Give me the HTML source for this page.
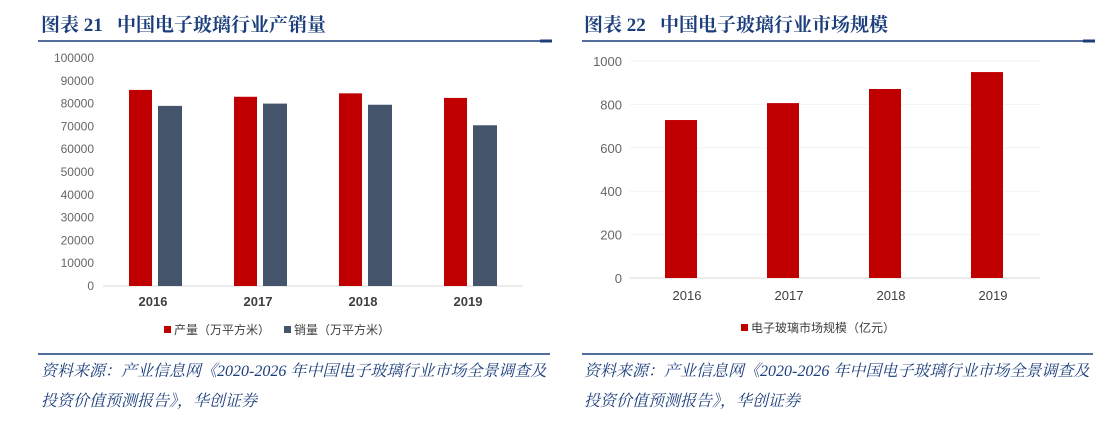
<!DOCTYPE html>
<html><head><meta charset="utf-8"><style>
body{margin:0;width:1114px;height:426px;background:#fff;overflow:hidden;font-family:"Liberation Sans","Noto Sans CJK SC",sans-serif;}
.t{position:absolute;font-family:"Liberation Serif","Noto Serif CJK SC",serif;font-weight:bold;font-size:19px;color:#1c3f7c;top:10px;}
.src{position:absolute;font-family:"Liberation Serif","Noto Serif CJK SC",serif;font-style:italic;font-size:16px;color:#1c3f7c;line-height:30px;}
</style></head><body>
<div class="t" style="left:41px">图表 21&nbsp;&nbsp;&nbsp;中国电子玻璃行业产销量</div>
<div class="t" style="left:584px">图表 22&nbsp;&nbsp;&nbsp;中国电子玻璃行业市场规模</div>
<div class="src" style="left:41px;top:357px;width:520px">资料来源：产业信息网《2020-2026 年中国电子玻璃行业市场全景调查及投资价值预测报告》，华创证券</div>
<div class="src" style="left:584px;top:357px;width:520px">资料来源：产业信息网《2020-2026 年中国电子玻璃行业市场全景调查及投资价值预测报告》，华创证券</div>
<svg id="s" width="1114" height="426" style="position:absolute;left:0;top:0">
<line x1="38" y1="41" x2="550" y2="41" stroke="#1c3f7c" stroke-width="1.5"/>
<line x1="540" y1="41" x2="552" y2="41" stroke="#1c3f7c" stroke-width="3"/>
<line x1="582" y1="41" x2="1093" y2="41" stroke="#1c3f7c" stroke-width="1.5"/>
<line x1="1083" y1="41" x2="1095" y2="41" stroke="#1c3f7c" stroke-width="3"/>
<line x1="38" y1="354" x2="550" y2="354" stroke="#1c3f7c" stroke-width="1.5"/>
<line x1="582" y1="354" x2="1093" y2="354" stroke="#1c3f7c" stroke-width="1.5"/>
<g id="left"></g><g id="right"></g>
</svg>
<script>
const years=["2016","2017","2018","2019"];
const production=[86000,83000,84500,82500];
const sales=[79000,80000,79500,70500];
const leftTicks=[0,10000,20000,30000,40000,50000,60000,70000,80000,90000,100000];
const marketSize=[728,806,871,949];
const rightTicks=[0,200,400,600,800,1000];
const NS="http://www.w3.org/2000/svg";
function mk(p,tag,a,txt){const e=document.createElementNS(NS,tag);for(const k in a)e.setAttribute(k,a[k]);if(txt!==undefined)e.textContent=txt;p.appendChild(e);return e;}
// left
const L=document.getElementById('left');
const ly=v=>286-v*(228/100000);
const lx=i=>155+i*105;
leftTicks.forEach(t=>{
 const e=mk(L,'text',{x:94,y:ly(t)+4,'text-anchor':'end','font-size':12,fill:'#666'},t);
 
 
});
mk(L,'line',{x1:103,y1:286,x2:523,y2:286,stroke:'#d9d9d9'});
years.forEach((y,i)=>{
 const r=mk(L,'rect',{x:lx(i)-26,y:ly(production[i]),width:23,height:286-ly(production[i]),fill:'#c00000'});
 
 
 const n=mk(L,'rect',{x:lx(i)+3,y:ly(sales[i]),width:24,height:286-ly(sales[i]),fill:'#44546a'});
 
 
 const t=mk(L,'text',{x:lx(i)-2,y:306,'text-anchor':'middle','font-size':13,'font-weight':'bold',fill:'#404040'},y);
 
 
});
const lg1=mk(L,'g',{});


mk(lg1,'rect',{x:164,y:326,width:7,height:7,fill:'#c00000'});
mk(lg1,'text',{x:174,y:334,'font-size':12,fill:'#404040'},'产量（万平方米）');
mk(lg1,'rect',{x:284,y:326,width:7,height:7,fill:'#44546a'});
mk(lg1,'text',{x:294,y:334,'font-size':12,fill:'#404040'},'销量（万平方米）');
// right
const R=document.getElementById('right');
const ry=v=>278-v*(217/1000);
const rx=i=>681+i*102;
rightTicks.forEach(t=>{
 mk(R,'line',{x1:630,y1:ry(t),x2:1040,y2:ry(t),stroke:t?'#f2f2f2':'#d9d9d9'});
 const e=mk(R,'text',{x:622,y:ry(t)+5,'text-anchor':'end','font-size':13,fill:'#666'},t);
 
 
});
years.forEach((y,i)=>{
 const r=mk(R,'rect',{x:rx(i)-16,y:ry(marketSize[i]),width:32,height:278-ry(marketSize[i]),fill:'#c00000'});
 
 
 const t=mk(R,'text',{x:rx(i)+6,y:300,'text-anchor':'middle','font-size':13,fill:'#404040'},y);
 
 
});
const lg2=mk(R,'g',{});


mk(lg2,'rect',{x:741,y:324,width:7,height:7,fill:'#c00000'});
mk(lg2,'text',{x:751,y:332,'font-size':12,fill:'#404040'},'电子玻璃市场规模（亿元）');
</script>
</body></html>
